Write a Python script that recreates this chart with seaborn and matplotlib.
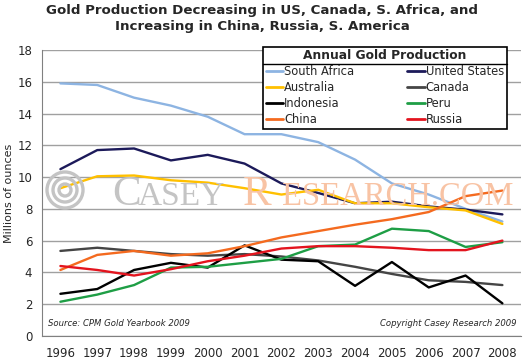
import pandas as pd
import numpy as np
import matplotlib.pyplot as plt
import seaborn as sns
from matplotlib.lines import Line2D
from matplotlib.patches import Ellipse

years = list(range(1996, 2009))

south_africa = [15.9, 15.8, 15.0, 14.5, 13.8, 12.7, 12.7, 12.2, 11.1, 9.6, 8.9, 8.0, 7.2]
united_states = [10.5, 11.7, 11.8, 11.05, 11.4, 10.85, 9.6, 9.0, 8.35, 8.45, 8.15, 7.95, 7.65]
australia = [9.3, 10.05, 10.1, 9.8, 9.65, 9.3, 8.9, 9.2, 8.35, 8.35, 8.1, 7.9, 7.05]
canada = [5.35, 5.55, 5.35, 5.15, 5.05, 5.15, 5.0, 4.75, 4.35, 3.9, 3.5, 3.4, 3.2]
indonesia = [2.65, 2.95, 4.15, 4.6, 4.3, 5.7, 4.8, 4.7, 3.15, 4.65, 3.05, 3.8, 2.05]
peru = [2.15, 2.6, 3.2, 4.3, 4.35, 4.6, 4.85, 5.65, 5.75, 6.75, 6.6, 5.6, 5.9]
china = [4.15, 5.1, 5.35, 5.05, 5.2, 5.65, 6.2, 6.6, 7.0, 7.35, 7.8, 8.8, 9.15]
russia = [4.4, 4.15, 3.8, 4.2, 4.7, 5.05, 5.5, 5.65, 5.65, 5.55, 5.4, 5.4, 6.0]

countries = ["South Africa", "United States", "Australia", "Canada",
             "Indonesia", "Peru", "China", "Russia"]
series = [south_africa, united_states, australia, canada, indonesia, peru, china, russia]
colors = ["#8db4e2", "#1c1a5a", "#ffc000", "#454545",
          "#000000", "#1e9e45", "#f46a1f", "#e3141e"]

# long-form table for seaborn
df = pd.DataFrame([
    {"year": y, "country": c, "oz": v}
    for c, vals in zip(countries, series)
    for y, v in zip(years, vals)
])

sns.set_style("white")
plt.rcParams['font.family'] = ['DejaVu Sans']

W, H = 525, 360
fig = plt.figure(figsize=(W / 100, H / 100), dpi=100)
ax = fig.add_axes([0.08, 0.067, 0.912, 0.794])

# faint watermark behind the lines
wm_gray = "#c4c4c4"
wm_orange = "#f8c3a4"
for r in [6, 12, 18]:
    fig.patches.append(Ellipse((65 / W, 1 - 190 / H), 2 * r / W, 2 * r / H,
                               transform=fig.transFigure, fill=False,
                               edgecolor=wm_gray, linewidth=2.4))
fig.text(0.213, 0.43, "C", fontsize=31, family="Liberation Serif", color=wm_gray, va="baseline")
fig.text(0.262, 0.43, "ASEY", fontsize=24, family="Liberation Serif", color=wm_gray, va="baseline")
fig.text(0.463, 0.43, "R", fontsize=31, family="Liberation Serif", color=wm_orange, va="baseline")
fig.text(0.538, 0.43, "ESEARCH.COM", fontsize=23.5, family="Liberation Serif", color=wm_orange, va="baseline")

sns.lineplot(data=df, x="year", y="oz", hue="country", hue_order=countries,
             palette=colors, linewidth=1.7, ax=ax, legend=False, zorder=3)

ax.set_xlim(1995.5, 2008.5)
ax.set_ylim(0, 18)
ax.set_yticks(np.arange(0, 19, 2))
ax.set_xticks(years)
ax.set_xticklabels([str(y) for y in years], fontsize=8.5)
ax.set_xticks(np.arange(1995.5, 2009, 1), minor=True)
ax.tick_params(axis="x", which="major", length=0, pad=8)
ax.tick_params(axis="x", which="minor", length=4, color="#808080", direction="out")
ax.tick_params(axis="y", labelsize=8.5, length=4, color="#808080", direction="out", pad=3)
ax.grid(axis="y", color="#a0a0a0", linewidth=1.0)
ax.set_axisbelow(True)
for s in ["top", "right"]:
    ax.spines[s].set_visible(False)
ax.spines["left"].set_color("#808080")
ax.spines["bottom"].set_color("#808080")
ax.set_xlabel("")
ax.set_ylabel("Millions of ounces", fontsize=8, labelpad=2)

# legend filled row by row like the original: reorder for column-major fill
order = [0, 2, 4, 6, 1, 3, 5, 7]
handles = [Line2D([0], [0], color=colors[i], lw=2) for i in order]
labels = [countries[i] for i in order]
leg = ax.legend(handles, labels, title="Annual Gold Production", ncol=2,
                loc="upper left", bbox_to_anchor=(0.461, 1.012, 0.51, 0.0), mode="expand",
                fontsize=8.3, title_fontproperties={"weight": "bold", "size": 8.8},
                frameon=True, fancybox=False, edgecolor="black", framealpha=1,
                handlelength=1.5, handletextpad=0.1, columnspacing=0.6,
                labelspacing=0.26, borderpad=0.25, borderaxespad=0)
leg.get_frame().set_linewidth(1.2)
leg.set_zorder(5)
ax.plot([0.461, 0.971], [0.952, 0.952], transform=ax.transAxes, color="black",
        linewidth=1.0, clip_on=False, zorder=6)

ax.text(0.013, 0.042, "Source: CPM Gold Yearbook 2009", transform=ax.transAxes,
        fontsize=6.1, style="italic", va="center")
ax.text(0.99, 0.042, "Copyright Casey Research 2009", transform=ax.transAxes,
        fontsize=6.1, style="italic", va="center", ha="right")

fig.text(0.5, 0.988, "Gold Production Decreasing in US, Canada, S. Africa, and\nIncreasing in China, Russia, S. America",
         ha="center", va="top", fontsize=9.6, weight="bold", linespacing=1.3)

fig.savefig("out.png", dpi=100)
